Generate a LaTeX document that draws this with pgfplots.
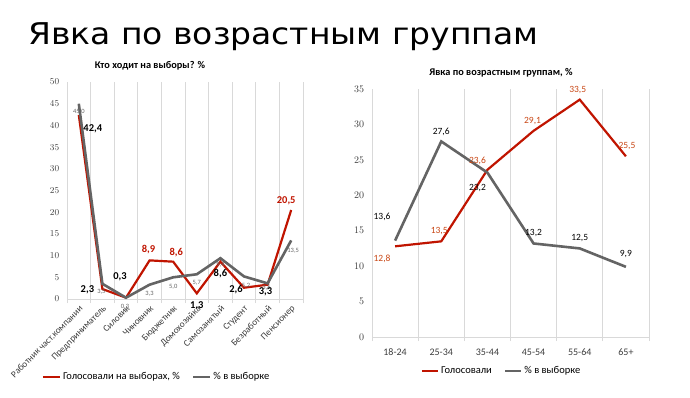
\documentclass[border=0pt]{standalone}
\usepackage{pgfplots}
\pgfplotsset{compat=1.18}
\usepackage{fontspec}
\setmainfont{Carlito}
\newfontfamily\titlefont{DejaVu Sans}
\definecolor{vred}{RGB}{192,20,0}
\definecolor{vgray}{RGB}{100,100,100}
\definecolor{lred}{RGB}{200,70,20}
\definecolor{gridc}{RGB}{217,217,217}
\definecolor{tickc}{RGB}{60,60,60}

\pgfplotstableread{
x red gray
0 42.4 45.0
1 2.3 3.5
2 0.3 0.3
3 8.9 3.3
4 8.6 5.0
5 1.3 5.7
6 8.6 9.4
7 2.6 5.2
8 3.3 3.6
9 20.5 13.5
}\occtable

\pgfplotstableread{
x red gray
0 12.8 13.6
1 13.5 27.6
2 23.6 23.2
3 29.1 13.2
4 33.5 12.5
5 25.5 9.9
}\agetable

\begin{document}
\begin{tikzpicture}
\useasboundingbox (0pt,0pt) rectangle (690pt,397pt);
\node[anchor=base west, inner sep=0, font=\titlefont\fontsize{30}{30}\selectfont] at (28pt,352pt) {\scalebox{1.1}[1]{Явка по возрастным группам}};

% ---------------- left chart ----------------
\begin{axis}[
  at={(67pt,98pt)}, anchor=south west,
  scale only axis, width=236pt, height=217pt,
  xmin=-0.5, xmax=9.5, ymin=0, ymax=50,
  ytick={0,5,...,50},
  xtick={0,...,9},
  xticklabels={Работник част.компании, Предприниматель, Силовик, Чиновник, Бюджетник, Домохозяйка, Самозанятый, Студент, Безработный, Пенсионер},
  major x tick style={draw=none},
  minor xtick={-0.5,0.5,...,9.5},
  xminorgrids=true,
  minor grid style={gridc, line width=0.8pt},
  minor x tick style={gridc, line width=0.8pt},
  tick align=outside,
  minor tick length=4pt,
  ytick style={draw=none},
  axis line style={gridc, line width=0.8pt},
  axis x line*=bottom, axis y line*=left,
  y axis line style={draw=none},
  tick label style={font=\fontsize{9.5}{9.5}\selectfont, text=tickc},
  xticklabel style={rotate=45, anchor=north east, inner sep=1pt, font=\fontsize{9.3}{9.3}\selectfont},
  legend style={draw=none, at={(0.379,-0.359)}, anchor=center, legend columns=2, font=\fontsize{10.5}{10.5}\selectfont, /tikz/every even column/.append style={column sep=10pt}},
  legend image code/.code={\draw[#1, line width=2.5pt] (0pt,0pt) -- (17pt,0pt);},
  clip=false,
]
\addplot[vred, line width=2.2pt] table[x=x, y=red] {\occtable};
\addlegendentry{Голосовали на выборах, \%}
\addplot[vgray, line width=2.6pt] table[x=x, y=gray] {\occtable};
\addlegendentry{\% в выборке}
% gray labels
\begin{scope}[every node/.style={font=\fontsize{6.5}{6.5}\selectfont, text=vgray, inner sep=0}]
\node[xshift=0pt, yshift=-8pt] at (axis cs:0,45.0) {45,0};
\node[xshift=-1pt, yshift=-8pt] at (axis cs:1,3.5) {3,5};
\node[xshift=-1pt, yshift=-9pt] at (axis cs:2,0.3) {0,3};
\node[xshift=0pt, yshift=-9pt] at (axis cs:3,3.3) {3,3};
\node[xshift=0pt, yshift=-10pt] at (axis cs:4,5.0) {5,0};
\node[xshift=0pt, yshift=-9pt] at (axis cs:5,5.7) {5,7};
\node[xshift=0pt, yshift=-7pt] at (axis cs:6,9.4) {9,4};
\node[xshift=2pt, yshift=-9pt] at (axis cs:7,5.2) {5,2};
\node[xshift=-1pt, yshift=-4pt] at (axis cs:8,3.6) {3,6};
\node[xshift=2pt, yshift=-10pt] at (axis cs:9,13.5) {13,5};
\end{scope}
% red series labels
\begin{scope}[every node/.style={font=\bfseries\fontsize{10.5}{10.5}\selectfont, text=black, inner sep=0}]
\node[xshift=14pt, yshift=-14pt] at (axis cs:0,42.4) {42,4};
\node[xshift=-15pt, yshift=-1pt] at (axis cs:1,2.3) {2,3};
\node[xshift=-6pt, yshift=21pt] at (axis cs:2,0.3) {0,3};
\node[xshift=0pt, yshift=-12pt] at (axis cs:5,1.3) {1,3};
\node[xshift=0pt, yshift=-12pt] at (axis cs:6,8.6) {8,6};
\node[xshift=-8pt, yshift=-2pt] at (axis cs:7,2.6) {2,6};
\node[xshift=-2pt, yshift=-7pt] at (axis cs:8,3.3) {3,3};
\node[text=vred, xshift=-1pt, yshift=11pt] at (axis cs:3,8.9) {8,9};
\node[text=vred, xshift=3pt, yshift=9pt] at (axis cs:4,8.6) {8,6};
\node[text=vred, xshift=-5pt, yshift=9pt] at (axis cs:9,20.5) {20,5};
\end{scope}
\end{axis}
\node[font=\bfseries\fontsize{10.3}{10.3}\selectfont] at (150pt,331pt) {Кто ходит на выборы? \%};

% ---------------- right chart ----------------
\begin{axis}[
  at={(372pt,60pt)}, anchor=south west,
  scale only axis, width=277pt, height=248pt,
  xmin=-0.5, xmax=5.5, ymin=0, ymax=35,
  ytick={0,5,...,35},
  xtick={0,...,5},
  xticklabels={18-24, 25-34, 35-44, 45-54, 55-64, 65+},
  major x tick style={draw=none},
  minor xtick={-0.5,0.5,...,5.5},
  xminorgrids=true,
  minor grid style={gridc, line width=0.8pt},
  minor x tick style={gridc, line width=0.8pt},
  tick align=outside,
  minor tick length=4pt,
  ytick style={draw=none},
  axis line style={gridc, line width=0.8pt},
  axis x line*=bottom, axis y line*=left,
  y axis line style={draw=none},
  tick label style={font=\fontsize{10}{10}\selectfont, text=tickc},
  xticklabel style={yshift=-4pt},
  legend style={draw=none, at={(0.4675,-0.137)}, anchor=center, legend columns=2, font=\fontsize{10.5}{10.5}\selectfont, /tikz/every even column/.append style={column sep=10pt}},
  legend image code/.code={\draw[#1, line width=2.5pt] (0pt,0pt) -- (16pt,0pt);},
  clip=false,
]
\addplot[vred, line width=2.2pt] table[x=x, y=red] {\agetable};
\addlegendentry{Голосовали}
\addplot[vgray, line width=2.6pt] table[x=x, y=gray] {\agetable};
\addlegendentry{\% в выборке}
\begin{scope}[every node/.style={font=\fontsize{9.5}{9.5}\selectfont, text=black, inner sep=0}]
\node[xshift=-13pt, yshift=24pt] at (axis cs:0,13.6) {13,6};
\node[xshift=0pt, yshift=10pt] at (axis cs:1,27.6) {27,6};
\node[xshift=-10pt, yshift=-15pt] at (axis cs:2,23.2) {23,2};
\node[xshift=0pt, yshift=10pt] at (axis cs:3,13.2) {13,2};
\node[xshift=0pt, yshift=10pt] at (axis cs:4,12.5) {12,5};
\node[xshift=0pt, yshift=13pt] at (axis cs:5,9.9) {9,9};
\node[text=lred, xshift=-13pt, yshift=-13pt] at (axis cs:0,12.8) {12,8};
\node[text=lred, xshift=-2pt, yshift=10pt] at (axis cs:1,13.5) {13,5};
\node[text=lred, xshift=-10pt, yshift=9pt] at (axis cs:2,23.6) {23,6};
\node[text=lred, xshift=-1pt, yshift=10pt] at (axis cs:3,29.1) {29,1};
\node[text=lred, xshift=-2pt, yshift=10pt] at (axis cs:4,33.5) {33,5};
\node[text=lred, xshift=1pt, yshift=10pt] at (axis cs:5,25.5) {25,5};
\end{scope}
\end{axis}
\node[font=\bfseries\fontsize{10.3}{10.3}\selectfont] at (501pt,324pt) {Явка по возрастным группам, \%};
\end{tikzpicture}
\end{document}
